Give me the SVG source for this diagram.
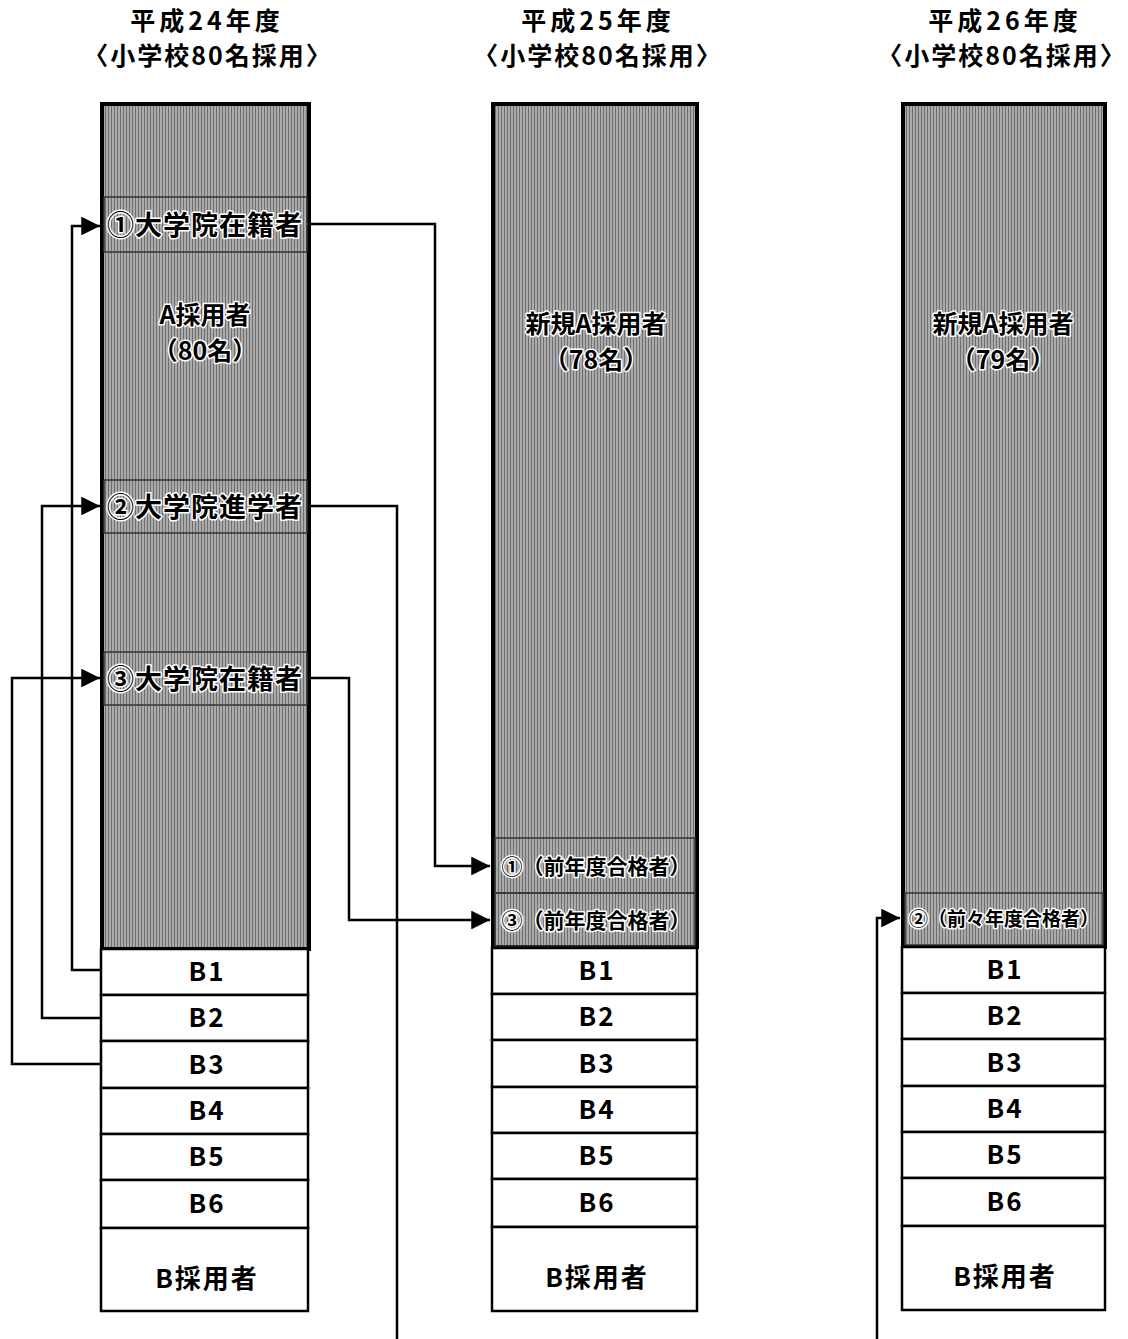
<svg xmlns="http://www.w3.org/2000/svg" width="1128" height="1339" viewBox="0 0 1128 1339">
<defs>
<marker id="arr" viewBox="0 0 10 10" refX="10" refY="5" markerWidth="9" markerHeight="7.5" markerUnits="strokeWidth" orient="auto">
<path d="M0,0 L10,5 L0,10 z" fill="#000"/>
</marker>
<pattern id="hatch" width="3" height="3" patternUnits="userSpaceOnUse">
<rect width="3" height="3" fill="#ababab"/>
<rect width="1" height="3" fill="#6e6e6e"/>
</pattern>
</defs>
<style>
text{font-family:"Noto Sans CJK JP","Liberation Sans",sans-serif;font-weight:bold;fill:#000;text-anchor:middle}
.t1{font-size:25px;letter-spacing:4px}
.t2{font-size:25px;letter-spacing:2px}
.gray{fill:url(#hatch);stroke:#000;stroke-width:4}
.band{fill:none;stroke:#333;stroke-width:1.5}
.wbox{fill:#fff;stroke:#000;stroke-width:2.5}
.blab{font-size:26px;letter-spacing:2px}
.halo{paint-order:stroke;stroke:#fff;stroke-width:3;stroke-linejoin:round}
.big{font-size:27px;letter-spacing:1px}
.mid{font-size:25px}
.conn{fill:none;stroke:#000;stroke-width:2.5}
</style>

<g id="titles">
<text class="t1" x="207" y="30">平成24年度</text>
<text class="t2" x="208" y="65">〈小学校80名採用〉</text>
<text class="t1" x="598" y="30">平成25年度</text>
<text class="t2" x="598" y="65">〈小学校80名採用〉</text>
<text class="t1" x="1005" y="30">平成26年度</text>
<text class="t2" x="1002" y="65">〈小学校80名採用〉</text>
</g>

<g id="col1">
<rect class="gray" x="102" y="104" width="207" height="845"/>
<rect class="band" x="104" y="197" width="203" height="55"/>
<rect class="band" x="104" y="480" width="203" height="53"/>
<rect class="band" x="104" y="652" width="203" height="53"/>
<text class="halo big" x="205" y="235">①大学院在籍者</text>
<text class="halo big" x="205" y="517">②大学院進学者</text>
<text class="halo big" x="205" y="689">③大学院在籍者</text>
<text class="halo mid" x="205" y="324">A採用者</text>
<text class="halo mid" x="205" y="360">（80名）</text>
<rect class="wbox" x="101" y="949" width="207" height="46"/>
<rect class="wbox" x="101" y="995" width="207" height="46"/>
<rect class="wbox" x="101" y="1041" width="207" height="47"/>
<rect class="wbox" x="101" y="1088" width="207" height="46"/>
<rect class="wbox" x="101" y="1134" width="207" height="46"/>
<rect class="wbox" x="101" y="1180" width="207" height="48"/>
<rect class="wbox" x="101" y="1228" width="207" height="83"/>
<text class="blab" x="207" y="981">B1</text>
<text class="blab" x="207" y="1027">B2</text>
<text class="blab" x="207" y="1074">B3</text>
<text class="blab" x="207" y="1120">B4</text>
<text class="blab" x="207" y="1166">B5</text>
<text class="blab" x="207" y="1213">B6</text>
<text class="blab" x="207" y="1288">B採用者</text>
</g>

<g id="col2">
<rect class="gray" x="493" y="104" width="204" height="843"/>
<rect class="band" x="495" y="838" width="200" height="55"/>
<rect class="band" x="495" y="893" width="200" height="53"/>
<text class="halo mid" x="596" y="333">新規A採用者</text>
<text class="halo mid" x="596" y="369">（78名）</text>
<text class="halo" x="596" y="874" font-size="21">①（前年度合格者）</text>
<text class="halo" x="596" y="928" font-size="21">③（前年度合格者）</text>
<rect class="wbox" x="492" y="948" width="205" height="46"/>
<rect class="wbox" x="492" y="994" width="205" height="46"/>
<rect class="wbox" x="492" y="1040" width="205" height="47"/>
<rect class="wbox" x="492" y="1087" width="205" height="46"/>
<rect class="wbox" x="492" y="1133" width="205" height="46"/>
<rect class="wbox" x="492" y="1179" width="205" height="48"/>
<rect class="wbox" x="492" y="1227" width="205" height="84"/>
<text class="blab" x="597" y="980">B1</text>
<text class="blab" x="597" y="1026">B2</text>
<text class="blab" x="597" y="1073">B3</text>
<text class="blab" x="597" y="1119">B4</text>
<text class="blab" x="597" y="1165">B5</text>
<text class="blab" x="597" y="1212">B6</text>
<text class="blab" x="597" y="1287">B採用者</text>
</g>

<g id="col3">
<rect class="gray" x="903" y="104" width="202" height="843"/>
<rect class="band" x="905" y="893" width="198" height="52"/>
<text class="halo mid" x="1003" y="333">新規A採用者</text>
<text class="halo mid" x="1003" y="369">（79名）</text>
<text class="halo" x="1004" y="926" font-size="19">②（前々年度合格者）</text>
<rect class="wbox" x="902" y="947" width="203" height="46"/>
<rect class="wbox" x="902" y="993" width="203" height="46"/>
<rect class="wbox" x="902" y="1039" width="203" height="47"/>
<rect class="wbox" x="902" y="1086" width="203" height="46"/>
<rect class="wbox" x="902" y="1132" width="203" height="46"/>
<rect class="wbox" x="902" y="1178" width="203" height="48"/>
<rect class="wbox" x="902" y="1226" width="203" height="84"/>
<text class="blab" x="1005" y="979">B1</text>
<text class="blab" x="1005" y="1025">B2</text>
<text class="blab" x="1005" y="1072">B3</text>
<text class="blab" x="1005" y="1118">B4</text>
<text class="blab" x="1005" y="1164">B5</text>
<text class="blab" x="1005" y="1211">B6</text>
<text class="blab" x="1005" y="1286">B採用者</text>
</g>

<g id="connectors">
<polyline class="conn" points="311,224 435,224 435,866 490,866" marker-end="url(#arr)"/>
<polyline class="conn" points="311,506 397,506 397,1339"/>
<polyline class="conn" points="311,678 349,678 349,920 490,920" marker-end="url(#arr)"/>
<polyline class="conn" points="877,1339 877,918 900,918" marker-end="url(#arr)"/>
<polyline class="conn" points="100,970 72,970 72,226 100,226" marker-end="url(#arr)"/>
<polyline class="conn" points="100,1018 42,1018 42,506 100,506" marker-end="url(#arr)"/>
<polyline class="conn" points="100,1064 12,1064 12,678 100,678" marker-end="url(#arr)"/>
</g>
</svg>
